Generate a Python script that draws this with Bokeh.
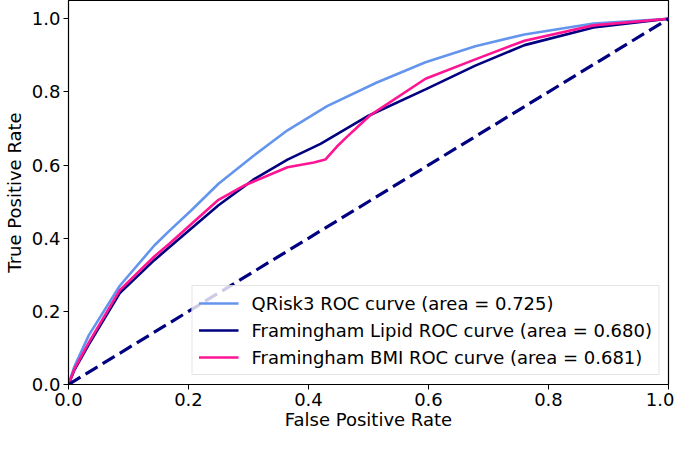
from bokeh.plotting import figure
from bokeh.models import Range1d, Legend, LegendItem, FixedTicker, NumeralTickFormatter
from bokeh.embed import file_html
from bokeh.resources import INLINE

# ROC data
qrisk_fpr = [0.0, 0.01, 0.034, 0.0855, 0.143, 0.168, 0.204, 0.25, 0.308, 0.365, 0.431, 0.513, 0.595, 0.678, 0.76, 0.875, 1.0]
qrisk_tpr = [0.0, 0.05, 0.135, 0.27, 0.38, 0.42, 0.475, 0.549, 0.625, 0.695, 0.761, 0.825, 0.881, 0.925, 0.957, 0.987, 1.0]

lipid_fpr = [0.0, 0.01, 0.034, 0.0855, 0.143, 0.168, 0.25, 0.308, 0.365, 0.42, 0.50, 0.595, 0.678, 0.76, 0.875, 1.0]
lipid_tpr = [0.0, 0.04, 0.11, 0.25, 0.34, 0.375, 0.49, 0.56, 0.615, 0.658, 0.735, 0.807, 0.872, 0.928, 0.976, 1.0]

bmi_fpr = [0.0, 0.01, 0.034, 0.0855, 0.143, 0.168, 0.25, 0.294, 0.365, 0.409, 0.428, 0.447, 0.464, 0.502, 0.595, 0.678, 0.76, 0.875, 1.0]
bmi_tpr = [0.0, 0.043, 0.115, 0.258, 0.35, 0.385, 0.505, 0.545, 0.594, 0.607, 0.615, 0.65, 0.677, 0.735, 0.836, 0.889, 0.94, 0.982, 1.0]

chance = [0.0, 1.0]

labels = [
    "QRisk3 ROC curve (area = 0.725)",
    "Framingham Lipid ROC curve (area = 0.680)",
    "Framingham BMI ROC curve (area = 0.681)",
]
ticks = [0.0, 0.2, 0.4, 0.6, 0.8, 1.0]

FONT = "DejaVu Sans"
FS = "18px"

p = figure(width=674, height=432, output_backend="svg", toolbar_location=None,
           x_range=Range1d(0, 1), y_range=Range1d(0, 1.05),
           min_border_left=10, min_border_right=6, min_border_top=0, min_border_bottom=0)
p.xgrid.visible = False
p.ygrid.visible = False
p.outline_line_color = "black"
p.outline_line_alpha = 1.0
p.outline_line_width = 1.2

r1 = p.line(qrisk_fpr, qrisk_tpr, line_color="#6495ED", line_width=2.6)
r2 = p.line(lipid_fpr, lipid_tpr, line_color="#000080", line_width=2.6)
r3 = p.line(bmi_fpr, bmi_tpr, line_color="#FF1493", line_width=2.6)
p.line(chance, chance, line_color="#000080", line_width=3.2, line_dash="14 6")

for ax in (p.xaxis[0], p.yaxis[0]):
    ax.ticker = FixedTicker(ticks=ticks)
    ax.formatter = NumeralTickFormatter(format="0.0")
    ax.minor_tick_line_color = None
    ax.major_tick_in = 0
    ax.major_tick_out = 5
    ax.major_tick_line_color = "black"
    ax.axis_line_color = "black"
    ax.major_label_text_font = FONT
    ax.major_label_text_font_size = FS
    ax.major_label_text_color = "black"
    ax.major_label_standoff = 3
    ax.axis_label_text_font = FONT
    ax.axis_label_text_font_size = FS
    ax.axis_label_text_font_style = "normal"
    ax.axis_label_text_color = "black"

p.xaxis.axis_label = "False Positive Rate"
p.yaxis.axis_label = "True Positive Rate"
p.xaxis.axis_label_standoff = 0
p.yaxis.axis_label_standoff = 4

legend = Legend(items=[LegendItem(label=labels[0], renderers=[r1]),
                       LegendItem(label=labels[1], renderers=[r2]),
                       LegendItem(label=labels[2], renderers=[r3])],
                location="bottom_right", margin=9, padding=6, spacing=5,
                glyph_width=40, glyph_height=22, label_height=22, label_standoff=13,
                label_text_font=FONT, label_text_font_size=FS, label_text_color="black",
                border_line_color="#cccccc", border_line_width=1,
                background_fill_color="white", background_fill_alpha=0.8)
p.add_layout(legend)

open("out.html", "w").write(file_html(p, INLINE))
